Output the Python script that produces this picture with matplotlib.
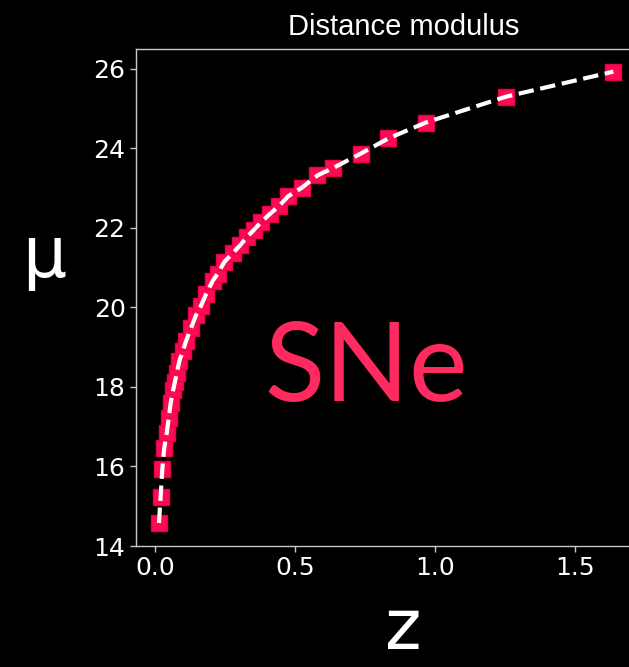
import matplotlib
matplotlib.use("Agg")
import matplotlib.pyplot as plt

# Data
z = [0.014, 0.020, 0.026, 0.033, 0.042, 0.049, 0.056, 0.065, 0.071, 0.078,
     0.087, 0.099, 0.111, 0.129, 0.146, 0.164, 0.182, 0.206, 0.224, 0.248,
     0.277, 0.305, 0.329, 0.352, 0.379, 0.412, 0.444, 0.476, 0.524, 0.580,
     0.637, 0.735, 0.833, 0.967, 1.253, 1.637]
mu = [14.58, 15.24, 15.94, 16.47, 16.85, 17.22, 17.60, 17.93, 18.13, 18.36,
      18.65, 18.90, 19.16, 19.49, 19.80, 20.04, 20.33, 20.67, 20.85, 21.15,
      21.36, 21.57, 21.78, 21.94, 22.15, 22.36, 22.56, 22.80, 23.01, 23.32,
      23.51, 23.87, 24.25, 24.65, 25.30, 25.93]
x_ticks = [0.0, 0.5, 1.0, 1.5]
y_ticks = [14, 16, 18, 20, 22, 24, 26]

W, H = 629, 667
fig = plt.figure(figsize=(W / 100, H / 100), dpi=100, facecolor="black")

left_px, right_px, top_px, bottom_px = 136, 671, 49, 546
ax = fig.add_axes([left_px / W, (H - bottom_px) / H,
                   (right_px - left_px) / W, (bottom_px - top_px) / H])
ax.set_facecolor("black")

pink = "#ff0a50"
ax.plot(z, mu, linestyle="none", marker="s", markersize=12,
        markerfacecolor=pink, markeredgecolor="#e8004a", markeredgewidth=1, zorder=2)
ax.plot(z, mu, color="white", linestyle="--", linewidth=3, zorder=3)

ax.set_xlim(-0.068, 1.843)
ax.set_ylim(14, 26.5)
ax.set_xticks(x_ticks)
ax.set_yticks(y_ticks)
ax.set_xticklabels([f"{t:.1f}" for t in x_ticks])
ax.set_yticklabels([str(t) for t in y_ticks])

for s in ax.spines.values():
    s.set_color("#c8c8c8")
    s.set_linewidth(1.0)
ax.tick_params(colors="#c8c8c8", labelcolor="white", labelsize=18,
               length=4, width=1)
for lab in ax.get_xticklabels() + ax.get_yticklabels():
    lab.set_family("DejaVu Sans")

ax.set_title("Distance modulus", color="white", fontsize=21,
             family="Liberation Sans", pad=10)

ax.set_xlabel("z", color="white", fontsize=50, family="DejaVu Sans")
ax.xaxis.set_label_coords(0.5, -0.207)
ax.xaxis.label.set_verticalalignment("baseline")
ax.set_ylabel("μ", color="white", fontsize=50, family="DejaVu Sans", rotation=0)
ax.yaxis.set_label_coords(-0.172, 0.58)
ax.yaxis.label.set_verticalalignment("center")

ax.text(0.430, 0.355, "SNe", transform=ax.transAxes, color="#ff2a5f",
        fontsize=80, family="Lato", fontweight="normal",
        ha="center", va="center")

fig.savefig("out.png", dpi=100, facecolor="black")
